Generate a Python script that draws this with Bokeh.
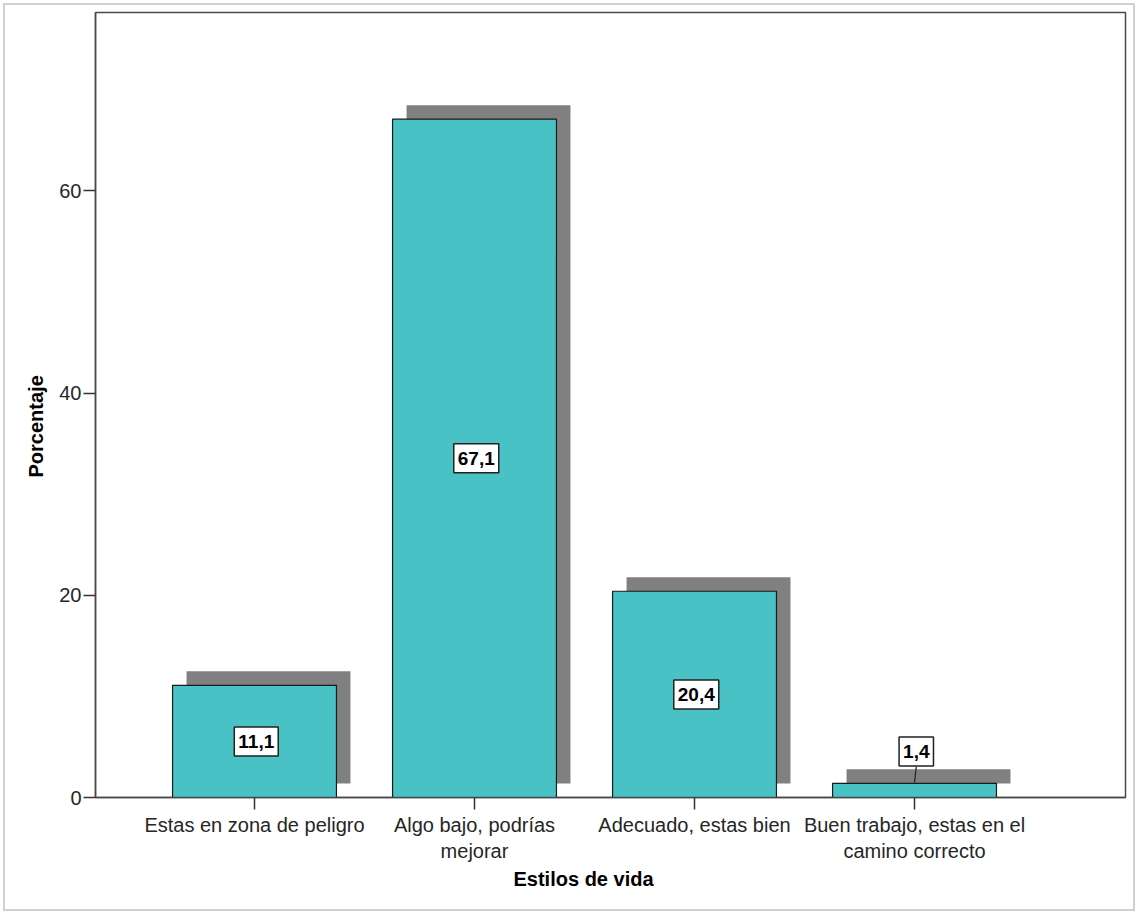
import numpy as np
from bokeh.plotting import figure
from bokeh.models import Range1d, Label, FixedTicker, Title, InlineStyleSheet
from bokeh.embed import file_html
from bokeh.resources import INLINE

categories = ["Estas en zona de peligro", "Algo bajo, podrías\nmejorar",
              "Adecuado, estas bien", "Buen trabajo, estas en el\ncamino correcto"]
values = [11.1, 67.1, 20.4, 1.4]
y_ticks = [0, 20, 40, 60]
x_title = "Estilos de vida"
y_title = "Porcentaje"

FONT = "Liberation Sans"
BAR = "#48C2C5"
SHADOW = "#808080"

W, H = 1137, 912
fl, fr, ft, fb = 95, 1125, 12, 797
x0, x1 = -0.7227, 3.959
y0, y1 = 0, 77.65
px_x = (fr - fl) / (x1 - x0)
px_y = (fb - ft) / (y1 - y0)
dx = 14 / px_x
dy = 14 / px_y
bw = 0.745

p = figure(width=W, height=H, output_backend="svg", toolbar_location=None,
           x_range=Range1d(x0, x1), y_range=Range1d(y0, y1),
           min_border_left=fl, min_border_right=W - fr, min_border_top=ft,
           min_border_bottom=H - fb)
p.xgrid.visible = False
p.ygrid.visible = False
p.background_fill_color = "white"
p.border_fill_color = "white"
p.outline_line_color = "#4a4a4a"
p.outline_line_width = 1.5
p.stylesheets = [InlineStyleSheet(css=(
    ":host::after { content: ''; position: absolute; left: 3px; top: 3px; "
    "right: 2px; bottom: 1px; border: 2px solid #d0d0d0; "
    "pointer-events: none; z-index: 1000; }"))]

xs = np.arange(len(categories))
vals = np.array(values)

p.quad(left=xs - bw / 2 + dx, right=xs + bw / 2 + dx, bottom=dy, top=vals + dy,
       fill_color=SHADOW, line_color=None)
p.quad(left=xs - bw / 2, right=xs + bw / 2, bottom=0, top=vals,
       fill_color=BAR, line_color="#1a1a1a", line_width=1.2)

for i, v in enumerate(values):
    txt = f"{v:.1f}".replace(".", ",")
    if v < 4:
        ly = v + 3.15
        p.segment(x0=[xs[i] + 0.008], y0=[ly - 1.5], x1=[xs[i]], y1=[v + 0.1],
                  line_color="#222222", line_width=1.2)
    else:
        ly = v / 2
    p.add_layout(Label(x=xs[i] + 0.008, y=ly, text=txt, text_align="center",
                       text_baseline="middle", text_font=FONT,
                       text_font_size="19px", text_font_style="bold",
                       text_color="black", background_fill_color="white",
                       border_line_color="#222222", border_line_width=1.5,
                       padding=dict(left=4, right=4, top=8, bottom=8)))

# axes
for ax in (p.xaxis[0], p.yaxis[0]):
    ax.axis_line_color = "#4a4a4a"
    ax.axis_line_width = 1.5
    ax.major_tick_line_color = "#333333"
    ax.major_tick_line_width = 1.5
    ax.major_tick_out = 12
    ax.major_tick_in = 0
    ax.minor_tick_out = 0
    ax.minor_tick_in = 0
    ax.major_label_text_font = FONT
    ax.major_label_text_font_size = "20px"
    ax.major_label_text_color = "#262626"

p.xaxis.ticker = FixedTicker(ticks=list(xs))
p.xaxis.major_label_overrides = {int(i): c for i, c in enumerate(categories)}
p.xaxis.major_label_standoff = 4
p.yaxis.ticker = FixedTicker(ticks=y_ticks)
p.yaxis.major_label_standoff = 2

p.add_layout(Title(text=x_title, align="left", offset=513 - fl,
                   text_font=FONT, text_font_size="20px",
                   text_font_style="bold", text_color="black", standoff=2),
             "below")
p.add_layout(Title(text=y_title, align="left", offset=fb - 477,
                   text_font=FONT, text_font_size="20px",
                   text_font_style="bold", text_color="black", standoff=20),
             "left")

open("out.html", "w").write(file_html(p, INLINE))
